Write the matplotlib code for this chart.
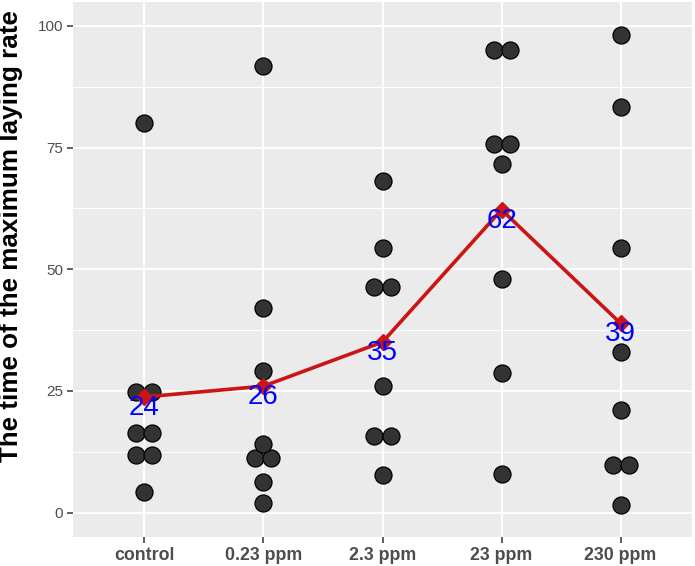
import numpy as np
import matplotlib.pyplot as plt

plt.rcParams['font.family'] = ['Liberation Sans', 'DejaVu Sans']

groups = ['control', '0.23 ppm', '2.3 ppm', '23 ppm', '230 ppm']
values = [
    [80, 24.8, 24.8, 16.3, 16.3, 11.9, 11.9, 4.2],
    [91.7, 42.1, 29.1, 14.2, 11.3, 11.3, 6.3, 2.0],
    [68.1, 54.4, 46.4, 46.4, 26.1, 15.7, 15.7, 7.7],
    [95.0, 95.0, 75.7, 75.7, 71.6, 48.1, 28.7, 8.0],
    [98.1, 83.3, 54.4, 33.1, 21.0, 9.9, 9.9, 1.5],
]
yticks = [0, 25, 50, 75, 100]

fig = plt.figure(figsize=(6.95, 5.66), dpi=100)
ax = fig.add_axes([73 / 695, 28.7 / 566, 619 / 695, 535.3 / 566])
ax.set_facecolor('#EBEBEB')

# dotplot: equal values stacked side by side
dot_w = 0.135
for i, vals in enumerate(values):
    vals = np.array(vals)
    for v in np.unique(vals):
        n = np.sum(vals == v)
        xs = i + (np.arange(n) - (n - 1) / 2) * dot_w
        ax.scatter(xs, [v] * n, s=150, c='#333333', edgecolors='black',
                   linewidths=0.9, zorder=3)

means = [np.mean(v) for v in values]
x = np.arange(len(groups))
ax.plot(x, means, color='#CC1414', lw=2.6, marker='D', ms=8,
        mec='#CC1414', zorder=4)
for xi, m in zip(x, means):
    ax.annotate('%d' % round(m), (xi, m), xytext=(0, -8), textcoords='offset points',
                ha='center', va='center', fontsize=20, color='#0000FF', zorder=5)

ax.set_xlim(-0.6, 4.6)
ax.set_ylim(-5.05, 104.9)
ax.set_xticks(x)
ax.set_xticklabels(groups, fontsize=12.8, fontweight='bold', color='#4D4D4D')
ax.set_yticks(yticks)
ax.set_yticklabels([str(t) for t in yticks], fontsize=11, color='#4D4D4D')
ax.set_yticks([12.5, 37.5, 62.5, 87.5], minor=True)
ax.grid(True, which='major', color='white', lw=1.4)
ax.grid(True, which='minor', color='white', lw=0.7)
ax.set_axisbelow(True)
ax.tick_params(which='major', length=4, width=1.1, color='#333333', pad=3)
ax.tick_params(which='minor', length=0)
for s in ax.spines.values():
    s.set_visible(False)

ax.set_ylabel('The time of the maximum laying rate', fontsize=18.7,
              fontweight='bold', color='black')
ax.yaxis.set_label_coords(-0.08, 0.563)

fig.savefig('out.png', dpi=100)
